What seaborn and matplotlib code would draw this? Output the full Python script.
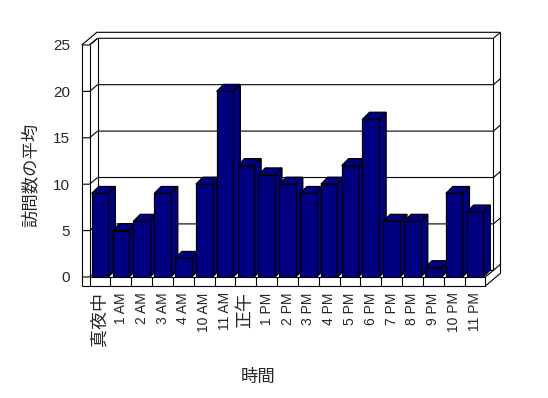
import matplotlib
matplotlib.use("Agg")
import matplotlib.pyplot as plt
import seaborn as sns
import pandas as pd
from matplotlib.patches import Polygon

# ---- data ----
categories = ["真夜中", "1 AM", "2 AM", "3 AM", "4 AM", "10 AM", "11 AM", "正午",
              "1 PM", "2 PM", "3 PM", "4 PM", "5 PM", "6 PM", "7 PM", "8 PM",
              "9 PM", "10 PM", "11 PM"]
values = [9, 5, 6, 9, 2, 10, 20, 12, 11, 10, 9, 10, 12, 17, 6, 6, 1, 9, 7]
y_ticks = [0, 5, 10, 15, 20, 25]
x_title = "時間"
y_title = "訪問数の平均"

sns.set_style("white")
fam = ["Liberation Sans", "Noto Sans CJK JP", "DejaVu Sans"]
plt.rcParams["font.family"] = fam

W, H = 548, 398
fig = plt.figure(figsize=(W / 100, H / 100), dpi=100)
fig.patch.set_facecolor("white")
ax_l, ax_r, ax_t, ax_b = 89.6, 485.4, 45, 277
ax = fig.add_axes([ax_l / W, (H - ax_b) / H, (ax_r - ax_l) / W, (ax_b - ax_t) / H])
ax.set_facecolor("none")

df = pd.DataFrame({"cat": categories, "val": values})
NAVY = "#000080"
sns.barplot(data=df, x="cat", y="val", order=categories, color=NAVY,
            saturation=1, width=0.8, edgecolor="black", linewidth=0.9, ax=ax)

n = len(categories)
ax.set_xlim(-0.5, n - 0.5)
ax.set_ylim(0, 25)
for s in ax.spines.values():
    s.set_visible(False)

# pixel -> data unit helpers
pxx = (ax_r - ax_l) / n
pxy = (ax_b - ax_t) / 25.0
def ux(p): return p / pxx
def uy(p): return p / pxy

dx, dy = ux(8), uy(6.7)      # floor depth
tx, ty = ux(7), uy(6.0)      # back wall thickness
lw_w = ux(7.8)               # left wall width
fl = uy(9)                   # floor thickness
bdx, bdy = ux(7), uy(7)      # bar depth
x0, x1 = -0.5, n - 0.5
ytop = 25
LW = 0.8
kw = dict(color="black", lw=LW, clip_on=False, solid_capstyle="butt")

# back wall gridlines + right end
for v in y_ticks:
    ax.plot([x0 + dx, x1 + dx, x1 + dx + tx], [v + dy, v + dy, v + dy + ty], zorder=2, **kw)
# back wall verticals
ax.plot([x0 + dx, x0 + dx], [dy, ytop + dy], zorder=2, **kw)
ax.plot([x1 + dx, x1 + dx], [dy, ytop + dy], zorder=2, **kw)
ax.plot([x1 + dx + tx, x1 + dx + tx], [-fl + dy + ty, ytop + dy + ty], zorder=2, **kw)
# top outer edge
ax.plot([x0 - lw_w, x0 - lw_w + dx + tx, x1 + dx + tx],
        [ytop, ytop + dy + ty, ytop + dy + ty], zorder=2, **kw)
ax.plot([x0, x0 + dx], [ytop, ytop + dy], zorder=2, **kw)
# left wall front face & ticks & inner diagonals
ax.plot([x0 - lw_w, x0 - lw_w], [-fl, ytop], zorder=2, **kw)
ax.plot([x0, x0], [0, ytop], zorder=2, **kw)
for v in y_ticks:
    ax.plot([x0 - lw_w, x0, x0 + dx], [v, v, v + dy], zorder=2, **kw)
# floor front face
ax.plot([x0 - lw_w, x1, x1, x0], [-fl, -fl, 0, 0], zorder=2, **kw)
for k in range(n):
    ax.plot([x0 + k, x0 + k], [-fl, 0], zorder=2, **kw)
# floor right end
ax.plot([x1, x1 + dx], [0, dy], zorder=2, **kw)
ax.plot([x1, x1 + dx + tx], [-fl, -fl + dy + ty], zorder=2, **kw)

# 3D bars: top and side faces from the bar patches
bars = list(ax.patches)
for i, p in enumerate(bars):
    bx0 = p.get_x()
    bx1 = bx0 + p.get_width()
    h = p.get_height()
    p.set_zorder(10 + i)
    top = Polygon([(bx0, h), (bx1, h), (bx1 + bdx, h + bdy), (bx0 + bdx, h + bdy)],
                  closed=True, facecolor=NAVY, edgecolor="black", lw=0.9,
                  zorder=9.9 + i, clip_on=False)
    side = Polygon([(bx1, 0), (bx1 + bdx, bdy), (bx1 + bdx, h + bdy), (bx1, h)],
                   closed=True, facecolor=NAVY, edgecolor="black", lw=0.9,
                   zorder=9.9 + i, clip_on=False)
    ax.add_patch(top)
    ax.add_patch(side)

# ticks and labels
ax.set_yticks(y_ticks)
ax.set_yticklabels([str(v) for v in y_ticks], fontsize=11)
ax.tick_params(axis="y", length=0, pad=14)
ax.set_xticks(range(n))
ax.set_xticklabels(categories, rotation=90, fontsize=10)
ax.tick_params(axis="x", length=0, pad=11)
for t in ax.get_xticklabels():
    if not t.get_text().isascii():
        t.set_fontsize(13)
    t.set_va("top")

ax.set_xlabel(x_title, fontsize=12.5, family=fam)
ax.set_ylabel(y_title, fontsize=12.5, family=fam)
ax.xaxis.label.set_va("center")
ax.yaxis.label.set_va("center")
ax.xaxis.set_label_coords((258 - ax_l) / (ax_r - ax_l), (ax_b - 377) / (ax_b - ax_t))
ax.yaxis.set_label_coords((30 - ax_l) / (ax_r - ax_l), (ax_b - 175) / (ax_b - ax_t))

fig.savefig("out.png", dpi=100, facecolor="white")
